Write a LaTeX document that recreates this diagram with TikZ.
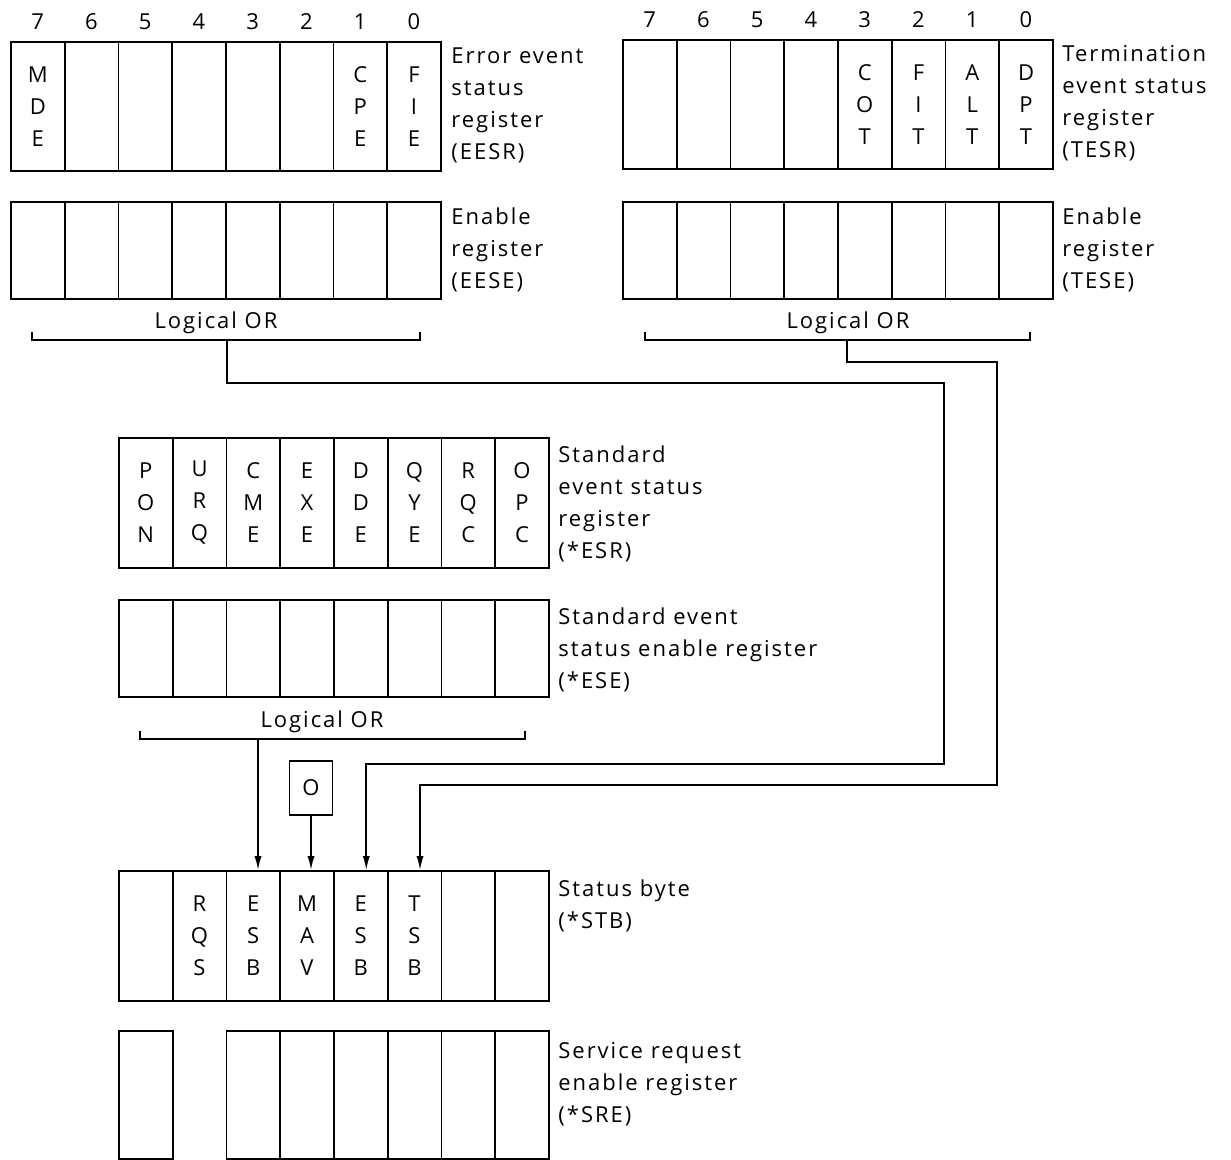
\documentclass[tikz,border=0pt]{standalone}
\usepackage{fontspec}
\setmainfont{Open Sans}[LetterSpace=9]
\usetikzlibrary{arrows.meta}
\newcommand\regrow[5]{%
  \foreach \t [count=\k from 0] in {#5} {%
    \pgfmathtruncatemacro\bit{7-\k}%
    \node[cell,minimum height=#4*0.5pt] (#1\bit) at ({#2+53.75*\k},#3) {\t};
  }}
\newcommand\bitnums[1]{%
  \foreach \b in {0,...,7} {\node[bitnum] (#1n\b) at ([yshift=9.5pt]#1\b.north) {\b};}}
\begin{document}
\begin{tikzpicture}[x=0.5pt,y=-0.5pt,
  every node/.style={font=\fontsize{11}{16}\selectfont},
  cell/.style={draw,line width=0.9pt,minimum width=26.875pt,inner sep=0pt,anchor=north west,align=center},
  bitnum/.style={inner sep=0pt},
  lab/.style={anchor=north west,align=left,inner sep=0pt},
  orlab/.style={inner sep=0pt},
  bracket/.style={line width=0.8pt},
  conn/.style={line width=0.8pt},
  arr/.style={conn,-{Latex[length=7pt,width=3.6pt]}}]
\useasboundingbox (0,0) rectangle (1231,1160);
% Error event status register
\regrow{eesr}{10}{41}{129}{M\\D\\E,{},{},{},{},{},C\\P\\E,F\\I\\E}
\bitnums{eesr}
\node[lab] (eesrl) at (451,47) {Error event\\status\\register\\(EESR)};
\regrow{eese}{10}{201}{97}{{},{},{},{},{},{},{},{}}
\node[lab] (eesel) at (451,207) {Enable\\register\\(EESE)};
% Termination event status register
\regrow{tesr}{622}{39}{129}{{},{},{},{},C\\O\\T,F\\I\\T,A\\L\\T,D\\P\\T}
\bitnums{tesr}
\node[lab] (tesrl) at (1062,45) {Termination\\event status\\register\\(TESR)};
\regrow{tese}{622}{201}{97}{{},{},{},{},{},{},{},{}}
\node[lab] (tesel) at (1062,207) {Enable\\register\\(TESE)};
% Standard event status register
\regrow{esr}{118}{437}{130}{P\\O\\N,U\\R\\Q,C\\M\\E,E\\X\\E,D\\D\\E,Q\\Y\\E,R\\Q\\C,O\\P\\C}
\node[lab] (esrl) at (558,445) {Standard\\event status\\register\\(*ESR)};
\regrow{ese}{118}{599}{97}{{},{},{},{},{},{},{},{}}
\node[lab] (esel) at (558,607) {Standard event\\status enable register\\(*ESE)};
% Status byte
\regrow{stb}{118}{870}{130}{{},R\\Q\\S,E\\S\\B,M\\A\\V,E\\S\\B,T\\S\\B,{},{}}
\node[lab] (stbl) at (558,879) {Status byte\\(*STB)};
% Service request enable register
\node[cell,minimum height=64pt] (sre7) at (118,1030) {};
\foreach \k in {2,...,7} {\pgfmathtruncatemacro\bit{7-\k}
  \node[cell,minimum height=64pt] (sre\bit) at ({118+53.75*\k},1030) {};}
\node[lab] (srel) at (558,1042) {Service request\\enable register\\(*SRE)};
% Logical OR brackets
\node[orlab] (eor) at (216,323) {Logical OR};
\coordinate (eorl) at (32,332); \coordinate (eorr) at (420,332);
\draw[bracket] (eorl) -- ++(0,8) -| (eorr);
\node[orlab] (tor) at (848,323) {Logical OR};
\coordinate (torl) at (645,332); \coordinate (torr) at (1030,332);
\draw[bracket] (torl) -- ++(0,8) -| (torr);
\node[orlab] (sor) at (322,722) {Logical OR};
\coordinate (sorl) at (140,731); \coordinate (sorr) at (525,731);
\draw[bracket] (sorl) -- ++(0,8) -| (sorr);
% stems
\coordinate (estem) at (227,340);
\coordinate (e1) at (944,383); \coordinate (e2) at (944,764);
\draw[arr] (estem) |- (e1) -- (e2) -| ([xshift=2.75pt]stb3.north);
\coordinate (tstem) at (847,340);
\coordinate (t1) at (997,362); \coordinate (t2) at (997,785);
\draw[arr] (tstem) |- (t1) -- (t2) -| ([xshift=2.75pt]stb2.north);
\coordinate (sstem) at (258,739);
\draw[arr] (sstem) -- (sstem |- stb5.north);
% O box
\node[draw,line width=0.8pt,minimum width=21.5pt,minimum height=27pt,inner sep=0pt] (zero) at (311,788) {O};
\draw[arr] (zero.south) -- (zero.south |- stb4.north);
\end{tikzpicture}
\end{document}
